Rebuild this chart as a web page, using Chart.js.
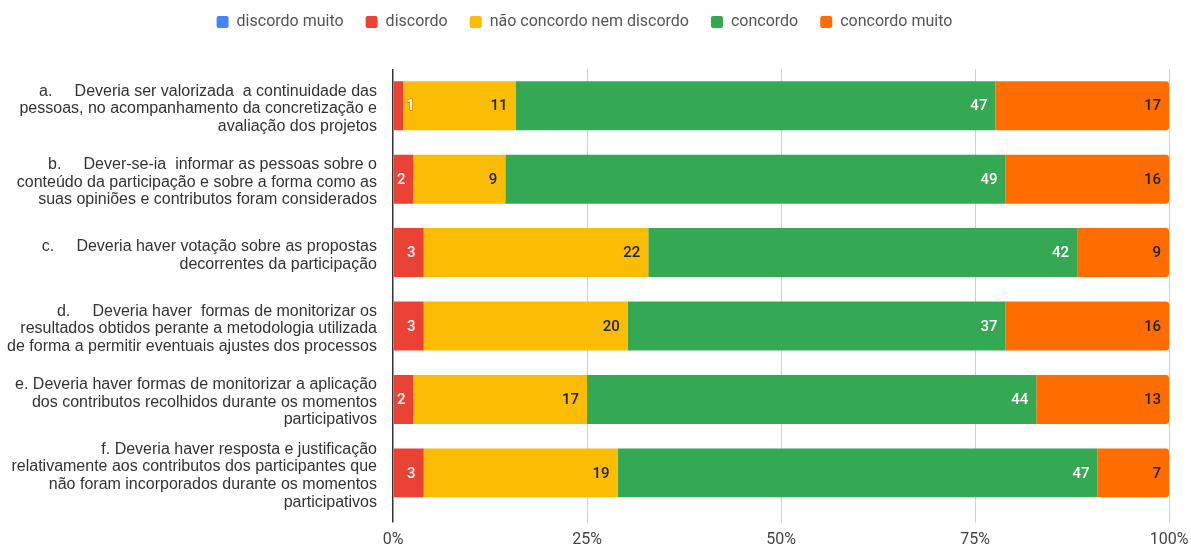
<!DOCTYPE html>
<html>
<head>
<meta charset="utf-8">
<script src="https://cdn.jsdelivr.net/npm/chart.js@4.4.1/dist/chart.umd.min.js"></script>
<style>
  html, body { margin: 0; padding: 0; background: #fff; }
  #wrap { width: 1191px; height: 544px; }
</style>
</head>
<body>
<div id="wrap"><canvas id="chart"></canvas></div>
<script>
// categories (multi-line labels as in the picture)
const categories = [
  ["a.     Deveria ser valorizada  a continuidade das", "pessoas, no acompanhamento da concretização e", "avaliação dos projetos"],
  ["b.     Dever-se-ia  informar as pessoas sobre o", "conteúdo da participação e sobre a forma como as", "suas opiniões e contributos foram considerados"],
  ["c.     Deveria haver votação sobre as propostas", "decorrentes da participação"],
  ["d.     Deveria haver  formas de monitorizar os", "resultados obtidos perante a metodologia utilizada", "de forma a permitir eventuais ajustes dos processos"],
  ["e. Deveria haver formas de monitorizar a aplicação", "dos contributos recolhidos durante os momentos", "participativos"],
  ["f. Deveria haver resposta e justificação", "relativamente aos contributos dos participantes que", "não foram incorporados durante os momentos", "participativos"]
];

const seriesNames = ["discordo muito", "discordo", "não concordo nem discordo", "concordo", "concordo muito"];

// counts per answer
const discordoMuito = [0, 0, 0, 0, 0, 0];
const discordo      = [1, 2, 3, 3, 2, 3];
const neutro        = [11, 9, 22, 20, 17, 19];
const concordo      = [47, 49, 42, 37, 44, 47];
const concordoMuito = [17, 16, 9, 16, 13, 7];

const xTicks = [0, 25, 50, 75, 100];

const colors = ["#4285F4", "#EA4335", "#FBBC04", "#34A853", "#FF6D01"];
const labelColors = ["#fff", "#fff", "#222", "#fff", "#222"];

const counts = [discordoMuito, discordo, neutro, concordo, concordoMuito];
const totals = categories.map((_, i) => counts.reduce((s, arr) => s + arr[i], 0));

const datasets = counts.map((arr, k) => ({
  label: seriesNames[k],
  data: arr.map((v, i) => v / totals[i] * 100),
  raw: arr,
  backgroundColor: colors[k],
  borderWidth: 0,
  borderSkipped: false,
  borderRadius: k === 4 ? { topLeft: 0, bottomLeft: 0, topRight: 3, bottomRight: 3 } : 0,
  categoryPercentage: 1,
  barPercentage: 0.667
}));

// draw counts at the right end of each segment
const valueLabels = {
  id: 'valueLabels',
  afterDatasetsDraw(chart) {
    const ctx = chart.ctx;
    ctx.save();
    ctx.font = '500 15px Roboto';
    ctx.textBaseline = 'middle';
    chart.data.datasets.forEach((ds, k) => {
      const meta = chart.getDatasetMeta(k);
      meta.data.forEach((bar, i) => {
        const v = ds.raw[i];
        if (!v) return;
        const w = bar.x - bar.base;
        ctx.fillStyle = labelColors[k];
        if (w < 16) {
          // too narrow: label spills over, outlined
          ctx.textAlign = 'left';
          ctx.lineWidth = 1.5;
          ctx.strokeStyle = '#d98a00';
          ctx.strokeText(String(v), bar.x + 3, bar.y + 1);
          ctx.fillText(String(v), bar.x + 3, bar.y + 1);
        } else {
          ctx.textAlign = 'right';
          ctx.fillText(String(v), bar.x - 8, bar.y + 1);
        }
      });
    });
    ctx.restore();
  }
};

const legendSpace = {
  id: 'legendSpace',
  beforeInit(chart) {
    const fit = chart.legend.fit;
    chart.legend.fit = function () {
      fit.bind(chart.legend)();
      this.height = 77;
    };
  }
};

new Chart(document.getElementById('chart'), {
  type: 'bar',
  data: { labels: categories, datasets: datasets },
  plugins: [valueLabels, legendSpace],
  options: {
    indexAxis: 'y',
    responsive: true,
    maintainAspectRatio: false,
    animation: false,
    layout: { padding: { top: -8, right: 22, left: 0, bottom: -15 } },
    plugins: {
      legend: {
        position: 'top',
        labels: {
          font: { family: 'Roboto', size: 16 },
          color: '#555',
          boxWidth: 12,
          boxHeight: 12,
          useBorderRadius: true,
          borderRadius: 2,
          padding: 22
        }
      },
      tooltip: { enabled: false }
    },
    scales: {
      x: {
        stacked: true,
        min: 0,
        max: 100,
        afterBuildTicks(scale) { scale.ticks = xTicks.map(v => ({ value: v })); },
        afterFit(scale) { scale.paddingRight = 0; },
        ticks: {
          callback: v => v + '%',
          font: { family: 'Roboto', size: 16 },
          color: '#444',
          padding: 8
        },
        grid: {
          color: c => c.index === 0 ? '#333' : '#d0d0d0',
          lineWidth: c => c.index === 0 ? 1.5 : 1,
          tickLength: 13
        },
        border: { display: false }
      },
      y: {
        stacked: true,
        afterFit(scale) { scale.width = 393; },
        ticks: {
          autoSkip: false,
          font: { family: 'Liberation Sans', size: 16, lineHeight: 1.1 },
          color: '#333',
          padding: 8,
          labelOffset: 3
        },
        grid: { display: false },
        border: { display: false }
      }
    }
  }
});
</script>
</body>
</html>
